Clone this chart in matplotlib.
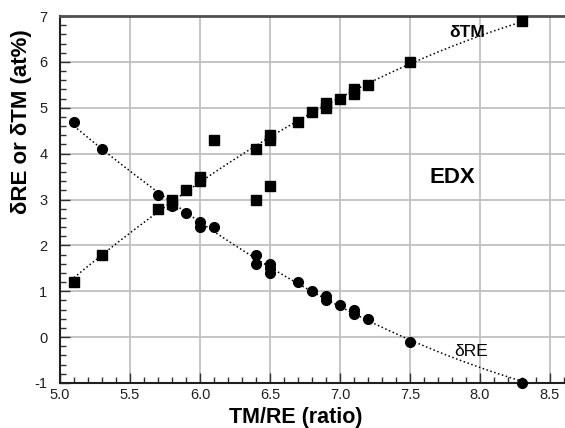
import numpy as np
import matplotlib
matplotlib.use('Agg')
import matplotlib.pyplot as plt
from matplotlib.ticker import MultipleLocator

plt.rcParams['font.family'] = ['Liberation Sans', 'DejaVu Sans']
plt.rcParams['axes.unicode_minus'] = False

# delta TM (squares)
tm_x = [5.1, 5.3, 5.7, 5.8, 5.8, 5.9, 6.0, 6.0, 6.1, 6.4, 6.4, 6.5, 6.5, 6.5,
        6.7, 6.8, 6.9, 6.9, 7.0, 7.1, 7.1, 7.2, 7.5, 8.3]
tm_y = [1.2, 1.8, 2.8, 2.9, 3.0, 3.2, 3.4, 3.5, 4.3, 4.1, 3.0, 4.3, 4.4, 3.3,
        4.7, 4.9, 5.0, 5.1, 5.2, 5.3, 5.4, 5.5, 6.0, 6.9]

# delta RE (circles)
re_x = [5.1, 5.3, 5.7, 5.8, 5.8, 5.9, 6.0, 6.0, 6.1, 6.4, 6.4, 6.5, 6.5, 6.5,
        6.7, 6.8, 6.9, 6.9, 7.0, 7.1, 7.1, 7.2, 7.5, 8.3]
re_y = [4.7, 4.1, 3.1, 2.95, 2.85, 2.7, 2.5, 2.4, 2.4, 1.8, 1.6, 1.6, 1.5, 1.4,
        1.2, 1.0, 0.9, 0.8, 0.7, 0.6, 0.5, 0.4, -0.1, -1.0]

# points left out of the TM trend line
tm_outliers = [(6.1, 4.3), (6.4, 3.0), (6.5, 3.3)]

fig = plt.figure(figsize=(5.65, 4.28), dpi=100)
ax = fig.add_axes([60 / 565, 45 / 428, 505 / 565, 367 / 428])

# trend lines (quadratic fits)
xs = np.linspace(5.1, 8.3, 200)
keep = [(x, y) for x, y in zip(tm_x, tm_y) if (x, y) not in tm_outliers]
kx, ky = zip(*keep)
p_tm = np.polyfit(kx, ky, 2)
p_re = np.polyfit(re_x, re_y, 2)
ax.plot(xs, np.polyval(p_tm, xs), ':', color='black', lw=1.1, zorder=2)
ax.plot(xs, np.polyval(p_re, xs), ':', color='black', lw=1.1, zorder=2)

ax.plot(tm_x, tm_y, 's', color='black', ms=6.5, zorder=3, clip_on=False)
ax.plot(re_x, re_y, 'o', color='black', ms=7, zorder=3, clip_on=False)

ax.set_xlim(5.0, 5.0 + 505 / 140)
ax.set_ylim(-1, 7)
ax.xaxis.set_major_locator(MultipleLocator(0.5))
ax.xaxis.set_minor_locator(MultipleLocator(0.1))
ax.yaxis.set_major_locator(MultipleLocator(1))
ax.yaxis.set_minor_locator(MultipleLocator(0.2))
ax.xaxis.set_major_formatter(plt.FormatStrFormatter('%.1f'))
ax.tick_params(which='both', direction='in', top=False, right=False,
               color='#303030', labelsize=10.5, labelcolor='#202020')
ax.tick_params(axis='y', pad=9)
ax.tick_params(which='major', length=7, width=1)
ax.tick_params(which='minor', length=4, width=1)
ax.grid(True, which='major', color='#c0c0c0', lw=1.3)
ax.set_axisbelow(True)

ax.spines['right'].set_visible(False)
for s in ['left', 'bottom']:
    ax.spines[s].set_color('#202020')
    ax.spines[s].set_linewidth(1.5)
ax.spines['top'].set_color('#505050')
ax.spines['top'].set_linewidth(2)

ax.set_xlabel('TM/RE (ratio)', fontsize=15.5, fontweight='bold')
ax.set_ylabel('δRE or δTM (at%)', fontsize=16, fontweight='bold')
ax.xaxis.set_label_coords(0.467, -0.095)
ax.yaxis.set_label_coords(-0.077, 0.711)
ax.xaxis.label.set_va('center')
ax.yaxis.label.set_va('center')

ax.text(7.8, 3.47, 'EDX', fontsize=16, fontweight='bold', ha='center', va='center')
ax.text(7.91, 6.63, 'δTM', fontsize=12.5, fontweight='bold', ha='center', va='center')
ax.text(7.94, -0.32, 'δRE', fontsize=12.5, ha='center', va='center')

fig.savefig('out.png', dpi=100)
